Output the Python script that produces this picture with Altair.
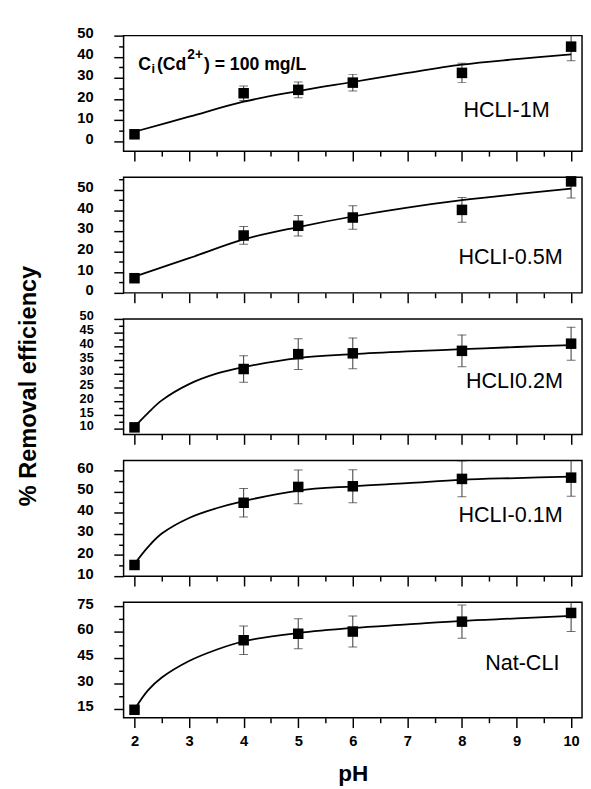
import altair as alt
import pandas as pd

FONT = "Liberation Sans"

# ---------------- data ----------------
ph_points = [2, 4, 5, 6, 8, 10]
panel_labels = ["HCLI-1M", "HCLI-0.5M", "HCLI0.2M", "HCLI-0.1M", "Nat-CLI"]

eff_1m = [3.4, 22.8, 24.4, 27.8, 32.4, 44.8]
err_1m = [0, 3.4, 3.7, 3.9, 4.6, 6.7]
eff_05m = [7.1, 27.8, 32.5, 36.5, 40.2, 54.0]
err_05m = [0, 4.3, 5.0, 5.7, 6.0, 8.0]
eff_02m = [10.6, 31.8, 37.2, 37.5, 38.4, 41.0]
err_02m = [0, 4.8, 5.6, 5.6, 5.8, 6.0]
eff_01m = [15.3, 44.8, 52.3, 52.6, 56.1, 56.7]
err_01m = [0, 6.8, 8.0, 7.8, 8.5, 8.8]
eff_nat = [14.4, 55.2, 59.0, 60.3, 66.1, 71.2]
err_nat = [0, 8.4, 8.8, 9.1, 9.7, 10.9]

# fitted curves (read at selected pH values)
fit_ph_a = [2, 3, 4, 5, 6, 7, 8, 9, 10]
fit_1m = [4.6, 11.7, 18.8, 23.8, 28.1, 32.4, 36.3, 38.9, 41.2]
fit_05m = [7.9, 16.8, 25.9, 31.9, 37.0, 41.3, 44.9, 47.8, 50.5]
fit_ph_b = [2, 2.25, 2.5, 3, 3.5, 4, 5, 6, 7, 8, 9, 10]
fit_02m = [10.8, 15.9, 20.4, 26.3, 30.1, 32.5, 35.8, 37.2, 38.2, 39.0, 39.8, 40.5]
fit_01m = [15.8, 23.9, 30.2, 37.6, 42.2, 45.6, 50.6, 52.6, 54.1, 55.7, 56.5, 57.2]
fit_nat = [14.6, 25.9, 33.3, 43.0, 49.6, 54.6, 59.4, 62.4, 64.5, 66.6, 68.0, 69.5]

x_domain = [1.8, 10.2]
x_major = [2, 3, 4, 5, 6, 7, 8, 9, 10]
x_minor = [2.5, 3.5, 4.5, 5.5, 6.5, 7.5, 8.5, 9.5]

y_domains = [[-4.6, 50], [0, 56], [8, 50], [10, 64.8], [9.7, 77.5]]
y_major = [
    [0, 10, 20, 30, 40, 50],
    [0, 10, 20, 30, 40, 50],
    [10, 15, 20, 25, 30, 35, 40, 45, 50],
    [10, 20, 30, 40, 50, 60],
    [15, 30, 45, 60, 75],
]
y_minor = [
    [5, 15, 25, 35, 45],
    [5, 15, 25, 35, 45, 55],
    [12.5, 17.5, 22.5, 27.5, 32.5, 37.5, 42.5, 47.5],
    [15, 25, 35, 45, 55],
    [22.5, 37.5, 52.5, 67.5],
]
y_label_size = [15, 15, 13, 15, 15]

W, H = 468, 118
label_pos = [(391, 76), (395, 82), (399, 64), (395, 56), (407, 62)]


def make_panel(i, eff, err, fit_x, fit_y, bottom=False):
    pts = pd.DataFrame({
        "pH": ph_points,
        "eff": eff,
        "lo": [v - e for v, e in zip(eff, err)],
        "hi": [v + e for v, e in zip(eff, err)],
    })
    fit = pd.DataFrame({"pH": fit_x, "eff": fit_y})
    xs = alt.Scale(domain=x_domain, nice=False, zero=False)
    ys = alt.Scale(domain=y_domains[i], nice=False, zero=False)

    minor_x = alt.Axis(values=x_minor, tickSize=5, labels=False, domain=False,
                       grid=False, title=None, orient="bottom")
    minor_y = alt.Axis(values=y_minor[i], tickSize=5, labels=False, domain=False,
                       grid=False, title=None, orient="left")
    if bottom:
        major_x = alt.Axis(values=x_major, tickSize=10, labels=True, domain=False,
                           grid=False, title="pH", orient="bottom", labelPadding=6,
                           titleFont=FONT, titleFontSize=23, titleFontWeight="bold",
                           titleColor="black", titlePadding=15, format="d")
    else:
        major_x = alt.Axis(values=x_major, tickSize=10, labels=False, domain=False,
                           grid=False, title=None, orient="bottom")
    major_y = alt.Axis(values=y_major[i], tickSize=10, labels=True, domain=False,
                       grid=False, title=None, orient="left", labelPadding=21,
                       labelOffset=-3, format="d", labelFontSize=y_label_size[i])

    rules = alt.Chart(pts).mark_rule(color="#333333", strokeWidth=1, clip=True).encode(
        x=alt.X("pH:Q", scale=xs, axis=None),
        y=alt.Y("lo:Q", scale=ys, axis=None),
        y2="hi:Q",
    )
    cap_lo = alt.Chart(pts).mark_tick(orient="horizontal", size=9, thickness=1,
                                      color="#333333", clip=True).encode(
        x=alt.X("pH:Q", scale=xs, axis=None),
        y=alt.Y("lo:Q", scale=ys, axis=None),
    )
    cap_hi = alt.Chart(pts).mark_tick(orient="horizontal", size=9, thickness=1,
                                      color="#333333", clip=True).encode(
        x=alt.X("pH:Q", scale=xs, axis=None),
        y=alt.Y("hi:Q", scale=ys, axis=None),
    )
    line = alt.Chart(fit).mark_line(color="black", strokeWidth=1.8,
                                    interpolate="catmull-rom").encode(
        x=alt.X("pH:Q", scale=xs, axis=minor_x),
        y=alt.Y("eff:Q", scale=ys, axis=minor_y),
    )
    squares = alt.Chart(pts).mark_square(size=115, color="black", opacity=1).encode(
        x=alt.X("pH:Q", scale=xs, axis=major_x),
        y=alt.Y("eff:Q", scale=ys, axis=major_y),
    )
    lx, ly = label_pos[i]
    label = alt.Chart(pd.DataFrame({"t": [panel_labels[i]]})).mark_text(
        font=FONT, fontSize=22, color="black", align="center", baseline="middle"
    ).encode(text="t:N", x=alt.value(lx), y=alt.value(ly))

    layers = [rules, cap_lo, cap_hi, line, squares, label]

    if i == 0:
        pieces = [
            ("C", 15, 34.7, 18),
            ("i", 28.5, 38.5, 13),
            ("(Cd", 34, 34.7, 18),
            ("2+", 65, 24.0, 14),
            (") = 100 mg/L", 82, 34.7, 18),
        ]
        for txt, px, py, fs in pieces:
            layers.append(
                alt.Chart(pd.DataFrame({"t": [txt]})).mark_text(
                    font=FONT, fontSize=fs, fontWeight="bold", color="black",
                    align="left", baseline="alphabetic"
                ).encode(text="t:N", x=alt.value(px), y=alt.value(py))
            )

    return alt.layer(*layers).resolve_axis(x="independent", y="independent").properties(
        width=W, height=H
    )


panels = [
    make_panel(0, eff_1m, err_1m, fit_ph_a, fit_1m),
    make_panel(1, eff_05m, err_05m, fit_ph_a, fit_05m),
    make_panel(2, eff_02m, err_02m, fit_ph_b, fit_02m),
    make_panel(3, eff_01m, err_01m, fit_ph_b, fit_01m),
    make_panel(4, eff_nat, err_nat, fit_ph_b, fit_nat, bottom=True),
]

chart = alt.vconcat(*panels, spacing=26.6, bounds="flush").properties(
    title=alt.TitleParams(
        text="% Removal efficiency", orient="left", anchor="middle",
        font=FONT, fontSize=24, fontWeight="bold", color="black", offset=36,
        dx=20,
    ),
    padding={"left": 9, "top": 9, "right": 0, "bottom": 0},
    background="white",
).configure_view(
    stroke="black", strokeWidth=1.5
).configure_axis(
    labelFont=FONT, labelFontSize=15, labelFontWeight="bold", labelColor="black",
    tickColor="black", tickWidth=1.5, labelOverlap=False, labelFlush=False,
)

chart.save("out.html", embed_options={"renderer": "svg", "actions": False})
